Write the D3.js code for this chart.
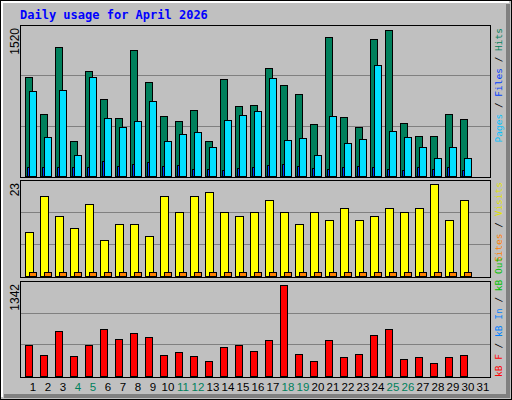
<html>
<script src='https://d3js.org/d3.v7.min.js'></script>
<body style='margin:0'>
<svg width=512 height=400></svg>
<script>
var days = d3.range(1, 32);
var weekend = [4,5,11,12,18,19,25,26];
var hits  = [1034,651,1344,362,1096,807,610,1313,982,631,569,693,362,1013,734,745,1127,951,858,538,1448,620,507,1427,1520,558,414,414,651,600];
var files = [889,403,900,217,1034,610,507,579,786,362,434,455,300,589,641,683,1024,372,393,217,631,341,383,1158,465,403,300,186,300,186];
var pages = [93,93,93,93,93,155,103,124,145,103,114,72,72,62,83,93,114,124,103,83,72,93,103,93,72,62,93,72,93,62];
var visits = [11,20,15,12,18,9,13,13,10,20,16,20,21,16,15,16,19,16,13,16,14,17,14,15,17,16,17,23,14,19];
var sites  = [1,1,1,1,1,1,1,1,1,1,1,1,1,1,1,1,1,1,1,1,1,1,1,1,1,1,1,1,1,1];
var kbytes = [460,313,666,299,460,695,549,637,578,313,357,299,225,431,460,372,534,1342,328,225,534,284,328,607,695,255,284,196,284,313];

var svg = d3.select('svg');
svg.append('rect').attr('width',512).attr('height',400).attr('fill','#c0c0c0');
svg.append('rect').attr('x',0.5).attr('y',0.5).attr('width',511).attr('height',399).attr('fill','none').attr('stroke','#000');
svg.append('path').attr('d','M2,397V2H509').attr('fill','none').attr('stroke','#fff').attr('stroke-width',2);
svg.append('path').attr('d','M508,4V396H4').attr('fill','none').attr('stroke','#808080').attr('stroke-width',4);

svg.append('text').attr('x',20).attr('y',19).text('Daily usage for April 2026')
  .attr('font-family','DejaVu Sans Mono').attr('font-weight','bold').attr('font-size',12).attr('fill','#0000ff');

var x = d3.scaleLinear().domain([1,2]).range([25,40]);

function panel(top, bottom, maxv, label) {
  var g = svg.append('g');
  g.append('rect').attr('x',20.5).attr('y',top+0.5).attr('width',470).attr('height',bottom-top)
    .attr('fill','none').attr('stroke','#000');
  var base = bottom - 1;
  var y = d3.scaleLinear().domain([0, maxv*1.03]).range([base, top+1]);
  [1/3, 2/3].forEach(function(f) {
    var v = y.invert(base - (base-top)*f);
    g.append('line').attr('x1',21).attr('x2',490).attr('y1',Math.round(y(v))+0.5).attr('y2',Math.round(y(v))+0.5).attr('stroke','#808080');
  });
  g.append('text').attr('transform','translate(19,'+(top+3)+') rotate(-90)').attr('text-anchor','end')
    .attr('font-family','Liberation Sans').attr('font-size',12).text(label);
  return {g:g, y:y, base:base};
}

function bars(p, data, dx, w, color) {
  p.g.selectAll(null).data(data).enter().append('rect')
    .attr('x',function(d,i){return x(i+1)+dx+0.5;})
    .attr('y',function(d){return Math.round(p.y(d))+0.5;})
    .attr('width',w)
    .attr('height',function(d){return p.base-Math.round(p.y(d));})
    .attr('fill',color).attr('stroke','#000');
}

var p1 = panel(25, 177, 1520, '1520');
bars(p1, hits, 0, 7, '#00805c');
bars(p1, pages, 2, 2, '#0040ff');
bars(p1, files, 4, 7, '#00e0ff');

var p2 = panel(180, 277, 23, '23');
bars(p2, visits, 0, 8, '#ffff00');
bars(p2, sites, 4, 7, '#ff8000');

var p3 = panel(281, 377, 1342, '1342');
bars(p3, kbytes, 0, 7, '#ff0000');

svg.selectAll('.day').data(days).enter().append('text')
  .attr('x',function(d){return x(d)+8;}).attr('y',391).attr('text-anchor','middle')
  .attr('font-family','Liberation Sans').attr('font-size',11.5)
  .attr('fill',function(d){return weekend.indexOf(d)>=0?'#00805c':'#000';})
  .text(function(d){return d;});

function sideLabel(yPos, anchor, parts) {
  var t = svg.append('text').attr('transform','translate(502,'+yPos+') rotate(-90)').attr('text-anchor',anchor)
    .attr('font-family','DejaVu Sans Mono').attr('font-size',9.5);
  parts.forEach(function(p){ t.append('tspan').attr('fill',p[1]).text(p[0]); });
}
sideLabel(28, 'end', [['Pages','#00c0ff'],[' / ','#000'],['Files','#0040ff'],[' / ','#000'],['Hits','#00805c']]);
sideLabel(182, 'end', [['Sites','#ff8000'],[' / ','#000'],['Visits','#e0e000']]);
sideLabel(377, 'start', [['kB F','#ff0000'],[' / ','#000'],['kB In','#0080ff'],[' / ','#000'],['kB Out','#00c000']]);
</script>
</body>
</html>
